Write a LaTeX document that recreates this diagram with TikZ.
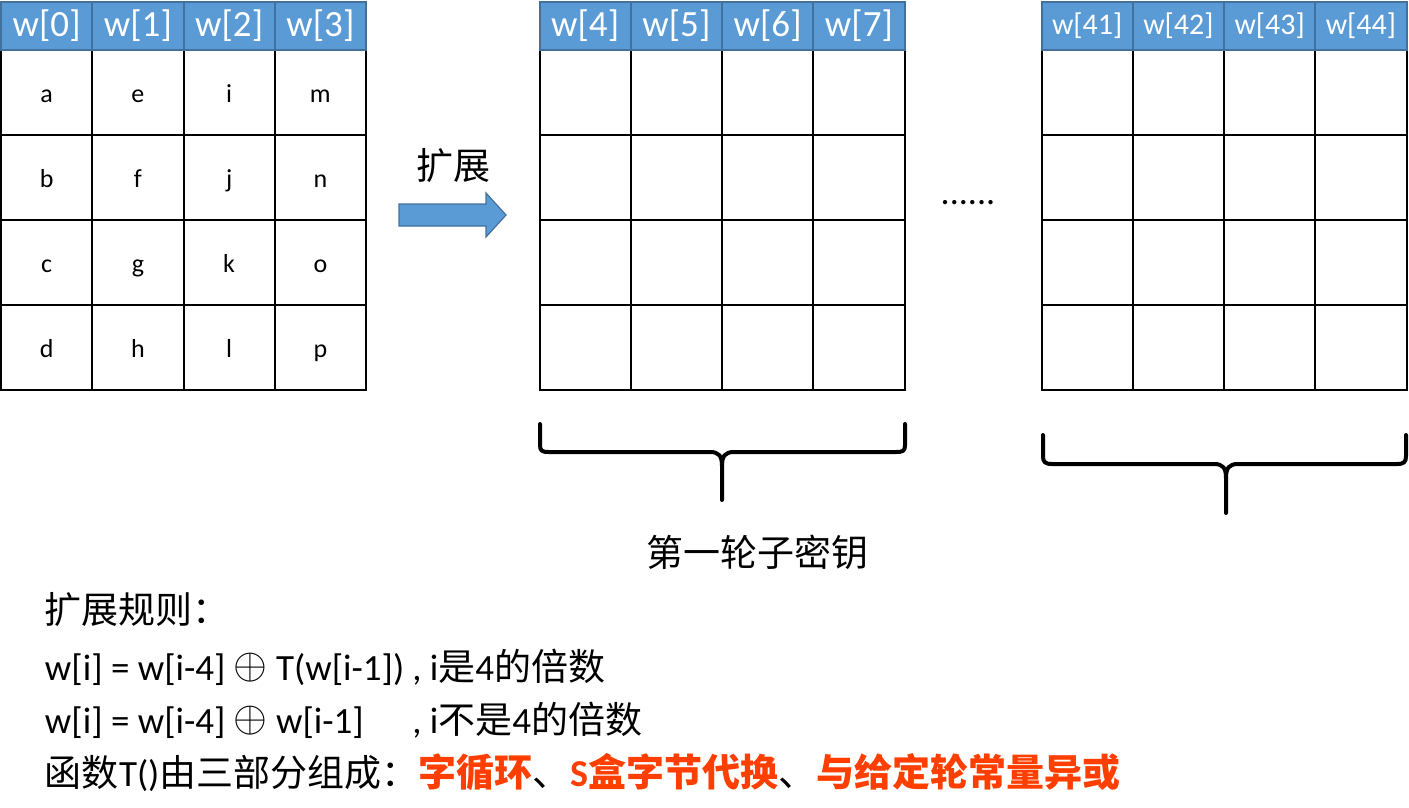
\documentclass[tikz,border=0pt]{standalone}
\usepackage{graphicx}
\usepackage{fontspec}
\setmainfont{Carlito}
\newfontfamily\cjk{Noto Sans CJK SC}
\definecolor{hdrblue}{RGB}{91,155,213}
\definecolor{hdrline}{RGB}{65,113,156}
\definecolor{redtxt}{RGB}{255,62,0}
\newcommand\zh[1]{{\cjk #1}}
\newcommand\rd[1]{{\color{redtxt}\bfseries #1}}
\newcommand\xorsym{\raisebox{1.5pt}{\scalebox{1.75}{$\oplus$}}}
\begin{document}
\begin{tikzpicture}[x=1pt,y=-1pt,
  cell/.style={draw=black,line width=2pt,minimum width=91.25pt,minimum height=85pt,inner sep=0pt,outer sep=0pt,text height=19pt,text depth=0pt,font=\fontsize{26}{30}\selectfont},
  hdr/.style={draw=hdrline,fill=hdrblue,line width=2pt,minimum width=91.25pt,minimum height=48pt,inner sep=0pt,outer sep=0pt,text=white},
  bigh/.style={hdr,font=\fontsize{37}{40}\selectfont},
  smallh/.style={hdr,font=\fontsize{30}{32}\selectfont},
  txt/.style={inner sep=0pt,outer sep=0pt,anchor=base west,font=\fontsize{37}{40}\selectfont},
  bracepath/.style={line width=4pt,line cap=round,line join=round},
  blockarrow/.style={draw=hdrline,fill=hdrblue,line width=1.2pt}]
\useasboundingbox (0,0) rectangle (1409,807);

% table A
\foreach \c/\la/\lb/\lc/\ld in {0/a/b/c/d,1/e/f/g/h,2/i/j/k/l,3/m/n/o/p}{
  \node[cell] (A-0-\c) at ({1+45.625+91.25*\c},92.5) {\la};
  \node[cell] (A-1-\c) at ({1+45.625+91.25*\c},177.5) {\lb};
  \node[cell] (A-2-\c) at ({1+45.625+91.25*\c},262.5) {\lc};
  \node[cell] (A-3-\c) at ({1+45.625+91.25*\c},347.5) {\ld};
}
% tables B and C
\foreach \r in {0,...,3}{
  \foreach \c in {0,...,3}{
    \node[cell] (B-\r-\c) at ({539.5+45.625+91.25*\c},{92.5+85*\r}) {};
    \node[cell] (C-\r-\c) at ({1041.5+45.625+91.25*\c},{92.5+85*\r}) {};
  }
}
% headers
\foreach \c/\ta/\tb/\tc in {0/0/4/41,1/1/5/42,2/2/6/43,3/3/7/44}{
  \node[bigh] (hA-\c) at ({1+45.625+91.25*\c},26) {w[\ta]};
  \node[bigh] (hB-\c) at ({539.5+45.625+91.25*\c},26) {w[\tb]};
  \node[smallh] (hC-\c) at ({1041.5+45.625+91.25*\c},26) {w[\tc]};
}

% expansion arrow
\draw[blockarrow] (399,204) -- (486,204) -- (486,193) -- (506,215) -- (486,237) -- (486,226) -- (399,226) -- cycle;
\node[inner sep=0pt,font=\fontsize{37}{40}\selectfont\cjk] (expand) at (453,166) {扩展};

% dots
\node[inner sep=0pt,font=\fontsize{36}{40}\selectfont] (dots) at (968,203) {......};

% brace 1
\draw[bracepath] (540,424) -- (540,445) .. controls (540,451) and (542,452) .. (549,452) -- (710,452) .. controls (719,452) and (722,456) .. (722,466) -- (722,500);
\draw[bracepath] (905,424) -- (905,445) .. controls (905,451) and (903,452) .. (896,452) -- (734,452) .. controls (725,452) and (722,456) .. (722,466);
% brace 2
\draw[bracepath] (1043,435) -- (1043,456) .. controls (1043,462) and (1045,464) .. (1052,464) -- (1214,464) .. controls (1223,464) and (1226,468) .. (1226,478) -- (1226,513);
\draw[bracepath] (1406,435) -- (1406,456) .. controls (1406,462) and (1404,464) .. (1397,464) -- (1238,464) .. controls (1229,464) and (1226,468) .. (1226,478);

\node[inner sep=0pt,font=\fontsize{37}{40}\selectfont\cjk] (round1) at (757,552) {第一轮子密钥};

% rules text
\node[txt] (l1) at (45,623) {\zh{扩展规则：}};
\node[txt] (l2a) at (45,680) {w[i] = w[i-4] \xorsym{} T(w[i-1])};
\node[txt,xshift=8pt] (l2b) at (l2a.base east) {, i\zh{是}4\zh{的倍数}};
\node[txt] (l3a) at (45,733) {w[i] = w[i-4] \xorsym{} w[i-1]};
\node[txt] (l3b) at (l2b.base west |- l3a.base) {, i\zh{不是}4\zh{的倍数}};
\node[txt] (l4) at (45,786) {\zh{函数}T()\zh{由三部分组成：}{\fontsize{38}{40}\selectfont\rd{\zh{字循环}}\zh{、}\rd{S\zh{盒字节代换}}\zh{、}\rd{\zh{与给定轮常量异或}}}};
\end{tikzpicture}
\end{document}
